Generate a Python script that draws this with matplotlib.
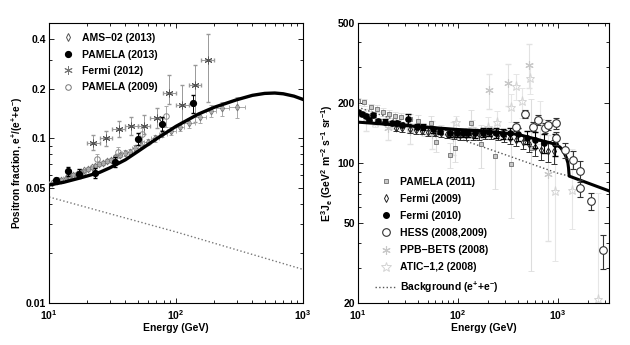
import matplotlib
matplotlib.use('Agg')
import matplotlib.pyplot as plt
from matplotlib.lines import Line2D
from matplotlib.ticker import LogLocator, NullFormatter, FixedLocator, FixedFormatter
import numpy as np

plt.rcParams['font.family'] = ['Liberation Sans', 'DejaVu Sans']
plt.rcParams['font.weight'] = 'bold'
plt.rcParams['axes.labelweight'] = 'bold'
plt.rcParams['mathtext.fontset'] = 'custom'
plt.rcParams['mathtext.rm'] = 'Liberation Sans:bold'
plt.rcParams['mathtext.bf'] = 'Liberation Sans:bold'
plt.rcParams['mathtext.it'] = 'Liberation Sans:bold'
plt.rcParams['mathtext.default'] = 'rm'

ASTER = (6, 2, 0)  # six-armed asterisk marker

# ---------------- left panel: positron fraction ----------------
model_E = [10, 13, 17, 20, 25, 30, 40, 50, 70, 100, 150, 200, 300, 400, 500, 600, 700, 850, 1000]
model_f = [0.052, 0.054, 0.057, 0.059, 0.062, 0.066, 0.074, 0.083, 0.099, 0.118, 0.140, 0.154,
           0.171, 0.182, 0.187, 0.188, 0.186, 0.180, 0.172]
bg_E = [10, 100, 1000]
bg_f = [0.044, 0.027, 0.016]

ams_E = [10.5, 11.5, 12.5, 13.5, 14.5, 15.5, 16.6, 17.8, 19.0, 20.3, 21.7, 23.2, 24.8, 26.5, 28.4,
         30.6, 33.2, 36.1, 39.4, 43.2, 47.8, 53.2, 59.9, 68.0, 78.2, 91.3, 108, 127, 156, 190, 231, 302]
ams_edges = [10, 11, 12, 13, 14, 15, 16.1, 17.2, 18.4, 19.6, 21, 22.5, 24, 25.6, 27.4, 29.5, 31.8,
             34.6, 37.7, 41.2, 45.3, 50.3, 56.1, 63.8, 73.4, 85, 100, 116, 140, 174, 206, 260, 350]
ams_f = [0.0535, 0.0550, 0.0560, 0.0575, 0.0585, 0.0600, 0.0610, 0.0625, 0.0640, 0.0650,
         0.0665, 0.0680, 0.0695, 0.0710, 0.0725, 0.0740, 0.0765, 0.0790, 0.0815, 0.0830,
         0.0875, 0.0915, 0.0950, 0.1000, 0.1065, 0.1110, 0.1170, 0.1240, 0.1340, 0.1470,
         0.1520, 0.1550]
ams_err = [0.001, 0.001, 0.001, 0.001, 0.001, 0.0012, 0.0012, 0.0013, 0.0014, 0.0015,
           0.0016, 0.0017, 0.0018, 0.002, 0.002, 0.0022, 0.0024, 0.0026, 0.003, 0.003,
           0.0033, 0.0037, 0.004, 0.0045, 0.005, 0.006, 0.007, 0.008, 0.01, 0.012, 0.015, 0.022]

pam13_E = [11.3, 14, 17.3, 23, 33, 50, 78, 137]
pam13_f = [0.0555, 0.063, 0.061, 0.0615, 0.072, 0.099, 0.122, 0.163]
pam13_err = [0.002, 0.004, 0.004, 0.004, 0.005, 0.008, 0.012, 0.02]

fermi12_edges = [20, 25, 31.6, 39.8, 50, 63, 79, 100, 126, 158, 200]
fermi12_f = [0.094, 0.100, 0.113, 0.118, 0.118, 0.132, 0.188, 0.160, 0.210, 0.300]
fermi12_lo = [0.085, 0.090, 0.101, 0.105, 0.106, 0.115, 0.162, 0.125, 0.125, 0.165]
fermi12_hi = [0.104, 0.111, 0.128, 0.134, 0.138, 0.152, 0.241, 0.210, 0.280, 0.430]

pam09_E = [11.5, 14.5, 18.5, 23.7, 35, 53.6, 83]
pam09_f = [0.056, 0.058, 0.062, 0.075, 0.082, 0.106, 0.137]
pam09_err = [0.002, 0.002, 0.003, 0.005, 0.006, 0.01, 0.02]

# ---------------- right panel: total e+ + e- flux ----------------
model2_E = [10, 20, 50, 100, 200, 400, 600, 800, 950, 1060, 1150, 1220, 1270, 1290, 1300, 1310, 3300]
model2_J = [160, 156, 151, 147, 144, 139, 132, 127, 124, 120, 114, 107, 100, 94, 89, 86, 72.5]
bg2_E = [10, 30, 100, 300, 1000, 1310]
bg2_J = [190, 158, 133, 110, 89, 86]

pam11_E = [10, 11.5, 13.5, 15.5, 18, 20.5, 23.5, 27, 33, 40, 54, 61, 83, 95, 135, 170, 237, 340, 540]
pam11_J = [203, 201, 190, 187, 180, 175, 171, 169, 166, 163, 159, 127, 110, 119, 159, 124, 109, 99, 119]
pam11_err = [8, 8, 8, 8, 8, 8, 8, 9, 9, 10, 12, 14, 16, 18, 25, 30, 35, 46, 90]

fermi09_E = [24, 28, 33, 38, 44, 51, 59, 68, 79, 91, 105, 122, 141, 163, 188, 217, 251, 290, 335,
             387, 447, 516, 596, 689, 796, 920]
fermi09_J = [150, 149, 147, 146, 145, 143, 142, 141, 140, 139, 138, 138, 138, 139, 140, 140, 139,
             137, 134, 131, 128, 124, 120, 116, 115, 115]
fermi09_err = [6, 6, 6, 6, 6, 6, 6, 6, 6, 7, 7, 7, 7, 8, 8, 8, 8, 9, 9, 10, 10, 11, 12, 13, 14, 16]

fermi10_E = [10, 11, 12, 13, 14.1, 16, 18.7, 21.9, 24.5, 28, 32, 39, 45, 57, 66, 83, 98, 112, 128,
             148, 178, 205, 240, 285, 335, 400, 490, 597, 730, 950]
fermi10_J = [180, 176, 172, 164, 173, 162, 161, 159, 158, 155, 166, 152, 151, 147, 145, 141, 141,
             141, 141, 141, 142, 143, 141, 140, 141, 139, 134, 131, 126, 124]
fermi10_err = [4, 4, 4, 4, 4, 4, 4, 4, 4, 4, 9, 5, 5, 5, 5, 6, 6, 6, 6, 7, 7, 7, 8, 8, 9, 10, 10,
               12, 14, 16]

hess_E = [384, 470, 566, 640, 745, 805, 960, 975, 1180, 1430, 1690, 1690, 2150, 2850]
hess_J = [152, 175, 152, 164, 150, 155, 158, 133, 116, 104, 91.5, 75, 64.5, 36.6]
hess_err = [8, 8, 8, 9, 8, 9, 10, 10, 10, 11, 11, 7, 6, 7]

ppb_E = [12, 20, 33, 55, 90, 204, 320, 520, 800]
ppb_J = [165, 150, 145, 140, 135, 232, 252, 307, 88]
ppb_lo = [20, 20, 20, 22, 25, 46, 60, 70, 47]
ppb_hi = [20, 20, 20, 22, 25, 46, 60, 85, 50]

atic_E = [15, 22, 33, 46, 68, 96, 140, 200, 250, 340, 385, 437, 535, 660, 940, 1400, 2550]
atic_J = [160, 155, 150, 145, 145, 160, 150, 152, 160, 190, 243, 203, 267, 164, 72.5, 73, 21]
atic_lo = [8, 8, 8, 9, 10, 12, 14, 18, 22, 30, 36, 35, 45, 40, 40, 26, 6]
atic_hi = [8, 8, 8, 9, 10, 12, 14, 18, 22, 30, 36, 35, 45, 40, 45, 45, 50]

fig = plt.figure(figsize=(6.3, 3.45), dpi=100)
ax1 = fig.add_axes([0.0778, 0.1217, 0.403, 0.8116])
ax2 = fig.add_axes([0.5678, 0.1217, 0.3994, 0.8116])

# left
e = np.array(ams_edges)
ax1.errorbar(ams_E, ams_f, yerr=ams_err,
             xerr=[np.array(ams_E) - e[:-1], e[1:] - np.array(ams_E)],
             fmt='d', ms=3.5, mfc='none', mec='#777777', mew=0.7, ecolor='#aaaaaa',
             elinewidth=0.7, capsize=1.5, zorder=3)
fe = np.array(fermi12_edges)
fc = np.sqrt(fe[:-1] * fe[1:])
ff = np.array(fermi12_f)
ax1.errorbar(fc, ff, yerr=[ff - np.array(fermi12_lo), np.array(fermi12_hi) - ff],
             xerr=[fc - fe[:-1], fe[1:] - fc], fmt='none', ecolor='#999999',
             elinewidth=0.7, capsize=1.5, zorder=2)
ax1.plot(fc, ff, ls='none', marker=ASTER, ms=5.5, mec='#555555', mew=0.7, zorder=2)
ax1.errorbar(pam09_E, pam09_f, yerr=pam09_err, fmt='o', ms=4, mfc='none', mec='#888888',
             mew=0.7, ecolor='#aaaaaa', elinewidth=0.7, capsize=1.5, zorder=3)
ax1.plot(model_E, model_f, '-', color='black', lw=2.4, zorder=4)
ax1.errorbar(pam13_E, pam13_f, yerr=pam13_err, fmt='o', ms=4.2, color='black',
             elinewidth=0.7, capsize=1.5, zorder=5)
ax1.plot(bg_E, bg_f, ':', color='#777777', lw=1, zorder=2)

ax1.set_xscale('log')
ax1.set_yscale('log')
ax1.set_xlim(10, 1000)
ax1.set_ylim(0.01, 0.5)
ax1.yaxis.set_major_locator(FixedLocator([0.01, 0.05, 0.1, 0.2, 0.4]))
ax1.yaxis.set_major_formatter(FixedFormatter(['0.01', '0.05', '0.1', '0.2', '0.4']))
ax1.yaxis.set_minor_locator(LogLocator(base=10, subs=np.arange(2, 10)))
ax1.yaxis.set_minor_formatter(NullFormatter())
ax1.set_xlabel('Energy (GeV)', fontsize=7.5, labelpad=1)
ax1.set_ylabel('Positron fraction, e$^{+}$/(e$^{+}$+e$^{-}$)', fontsize=7.2, labelpad=1)

leg1 = [Line2D([], [], ls='none', marker='d', ms=4, mfc='none', mec='#555555', mew=0.7),
        Line2D([], [], ls='none', marker='o', ms=4.2, color='black'),
        Line2D([], [], ls='none', marker=ASTER, ms=6, mec='#777777', mew=0.7),
        Line2D([], [], ls='none', marker='o', ms=4, mfc='none', mec='#777777', mew=0.7)]
ax1.legend(leg1, ['AMS\u221202 (2013)', 'PAMELA (2013)', 'Fermi (2012)', 'PAMELA (2009)'],
           loc='upper left', frameon=False, fontsize=7.5, handlelength=1.2,
           handletextpad=0.8, labelspacing=0.62, borderaxespad=0.3,
           bbox_to_anchor=(0.02, 0.99))

# right
ax2.errorbar(atic_E, atic_J, yerr=[atic_lo, atic_hi], fmt='*', ms=6.5, mfc='none',
             mec='#d4d4d4', mew=0.7, ecolor='#e6e6e6', elinewidth=0.8, capsize=2, zorder=1)
ax2.errorbar(ppb_E, ppb_J, yerr=[ppb_lo, ppb_hi], fmt='none', ecolor='#e2e2e2',
             elinewidth=0.8, capsize=2, zorder=1)
ax2.plot(ppb_E, ppb_J, ls='none', marker=ASTER, ms=6, mec='#c8c8c8', mew=0.8, zorder=1)
ax2.errorbar(pam11_E, pam11_J, yerr=pam11_err, fmt='s', ms=3, mfc='#c8c8c8', mec='#707070',
             mew=0.6, ecolor='#dddddd', elinewidth=0.8, capsize=2, zorder=2)
ax2.plot(bg2_E, bg2_J, ':', color='#555555', lw=1, zorder=2)
ax2.errorbar(fermi09_E, fermi09_J, yerr=fermi09_err, fmt='d', ms=3.5, mfc='none', mec='#222222',
             mew=0.7, ecolor='#333333', elinewidth=0.7, capsize=2, zorder=3)
ax2.plot(model2_E, model2_J, '-', color='black', lw=2.2, zorder=4)
ax2.errorbar(fermi10_E, fermi10_J, yerr=fermi10_err, fmt='o', ms=3.8, color='black',
             elinewidth=0.8, capsize=2, zorder=5)
ax2.errorbar(hess_E, hess_J, yerr=hess_err, fmt='o', ms=5.5, mfc='white', mec='#333333',
             mew=0.8, ecolor='#333333', elinewidth=0.8, capsize=2.5, zorder=6)

ax2.set_xscale('log')
ax2.set_yscale('log')
ax2.set_xlim(10, 3300)
ax2.set_ylim(20, 500)
ax2.yaxis.set_major_locator(FixedLocator([20, 50, 100, 200, 500]))
ax2.yaxis.set_major_formatter(FixedFormatter(['20', '50', '100', '200', '500']))
ax2.yaxis.set_minor_locator(LogLocator(base=10, subs=np.arange(2, 10)))
ax2.yaxis.set_minor_formatter(NullFormatter())
ax2.set_xlabel('Energy (GeV)', fontsize=7.5, labelpad=1)
ax2.set_ylabel('E$^{3}$J$_{e}$ (GeV$^{2}$ m$^{-2}$ s$^{-1}$ sr$^{-1}$)', fontsize=7.5, labelpad=2)

leg2 = [Line2D([], [], ls='none', marker='s', ms=3, mfc='#c8c8c8', mec='#707070', mew=0.6),
        Line2D([], [], ls='none', marker='d', ms=4, mfc='none', mec='#222222', mew=0.7),
        Line2D([], [], ls='none', marker='o', ms=4, color='black'),
        Line2D([], [], ls='none', marker='o', ms=5.5, mfc='none', mec='#333333', mew=0.8),
        Line2D([], [], ls='none', marker=ASTER, ms=6, mec='#c8c8c8', mew=0.8),
        Line2D([], [], ls='none', marker='*', ms=7, mfc='none', mec='#d4d4d4', mew=0.7),
        Line2D([], [], ls=':', color='#555555', lw=1)]
ax2.legend(leg2, ['PAMELA (2011)', 'Fermi (2009)', 'Fermi (2010)', 'HESS (2008,2009)',
                  'PPB\u2212BETS (2008)', 'ATIC\u22121,2 (2008)', 'Background (e$^{+}$+e$^{-}$)'],
           loc='lower left', frameon=False, fontsize=7.5, handlelength=2.1,
           handletextpad=0.3, labelspacing=0.68, borderaxespad=0, borderpad=0,
           bbox_to_anchor=(0.069, 0.03))

for ax in (ax1, ax2):
    ax.xaxis.set_major_locator(LogLocator(base=10))
    ax.xaxis.set_minor_locator(LogLocator(base=10, subs=np.arange(2, 10)))
    ax.xaxis.set_minor_formatter(NullFormatter())
    ax.tick_params(which='both', direction='in', top=True, right=True, labelsize=7.5, width=0.6)
    ax.tick_params(which='major', length=3.5, pad=2)
    ax.tick_params(which='minor', length=2)
    ax.tick_params(axis='x', which='major', pad=3.5)
    for s in ax.spines.values():
        s.set_linewidth(0.8)

fig.savefig('out.png', dpi=100)
